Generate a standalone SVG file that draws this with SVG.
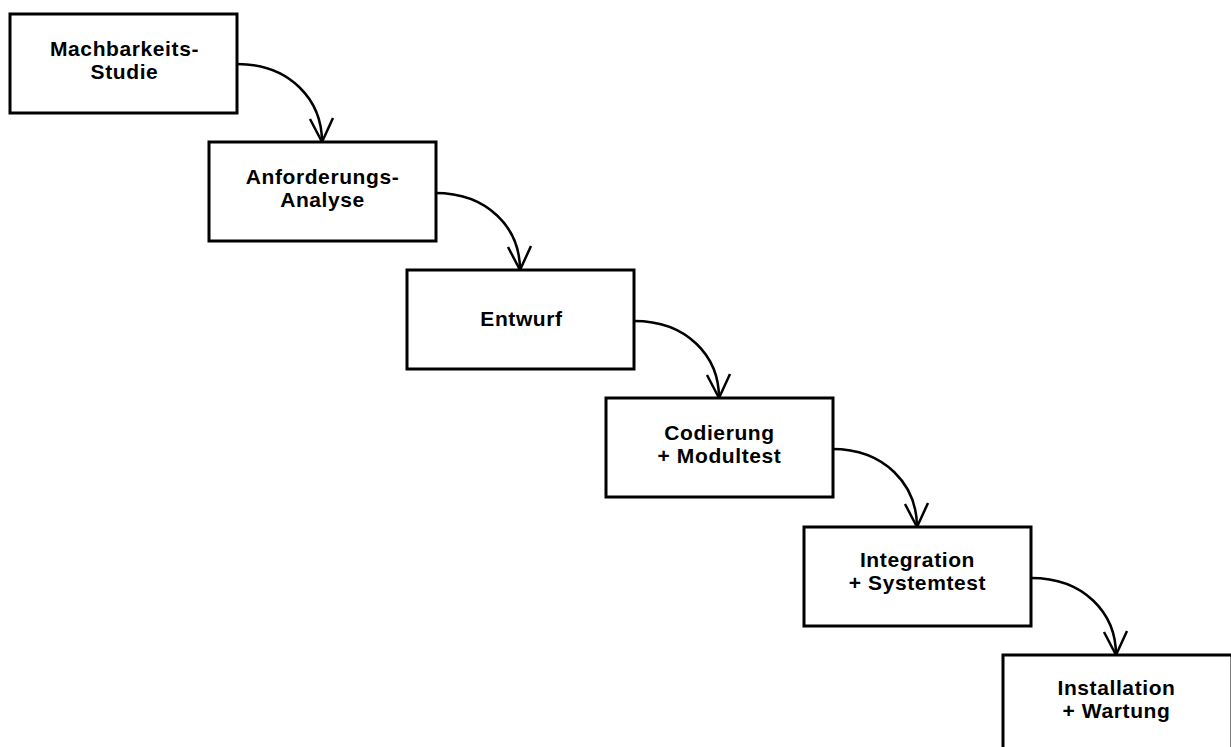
<svg xmlns="http://www.w3.org/2000/svg" width="1231" height="747" viewBox="0 0 1231 747">
  <style>
    .box { fill: #fff; stroke: #000; stroke-width: 3; }
    .lbl { font-family: "Liberation Sans", Arial, sans-serif; font-weight: bold; font-size: 21px; letter-spacing: 0.6px; text-anchor: middle; fill: #000; }
    .flow { fill: none; stroke: #000; stroke-width: 2.5; }
  </style>
  <rect width="1231" height="747" fill="#fff"/>

  <g id="connectors">
    <path class="flow" d="M237,64 C290,64 322,100 322,142"/>
    <path class="flow" d="M435,193 C488,193 520,228 520,270"/>
    <path class="flow" d="M634,321 C687,321 719,356 719,398"/>
    <path class="flow" d="M832,449 C885,449 917,485 917,527"/>
    <path class="flow" d="M1031,578 C1084,578 1116,613 1116,655"/>
    <g fill="none" stroke="#000" stroke-width="2.5">
      <path d="M310,119 L322,142 L333,118"/>
      <path d="M508,247 L520,270 L531,246"/>
      <path d="M707,375 L719,398 L730,374"/>
      <path d="M905,504 L917,527 L928,503"/>
      <path d="M1104,632 L1116,655 L1127,631"/>
    </g>
  </g>

  <g id="n1">
    <rect class="box" x="10" y="14" width="227" height="99"/>
    <text class="lbl" x="124.5" y="56">Machbarkeits-</text>
    <text class="lbl" x="124.5" y="79">Studie</text>
  </g>
  <g id="n2">
    <rect class="box" x="209" y="142" width="227" height="99"/>
    <text class="lbl" x="322.5" y="184">Anforderungs-</text>
    <text class="lbl" x="322.5" y="207">Analyse</text>
  </g>
  <g id="n3">
    <rect class="box" x="407" y="270" width="227" height="99"/>
    <text class="lbl" x="521.5" y="326">Entwurf</text>
  </g>
  <g id="n4">
    <rect class="box" x="606" y="398" width="227" height="99"/>
    <text class="lbl" x="719.5" y="440">Codierung</text>
    <text class="lbl" x="719.5" y="463">+ Modultest</text>
  </g>
  <g id="n5">
    <rect class="box" x="804" y="527" width="227" height="99"/>
    <text class="lbl" x="917.5" y="567">Integration</text>
    <text class="lbl" x="917.5" y="590">+ Systemtest</text>
  </g>
  <g id="n6">
    <rect class="box" x="1003" y="655" width="229" height="99"/>
    <text class="lbl" x="1116.5" y="695">Installation</text>
    <text class="lbl" x="1116.5" y="718">+ Wartung</text>
  </g>
</svg>
